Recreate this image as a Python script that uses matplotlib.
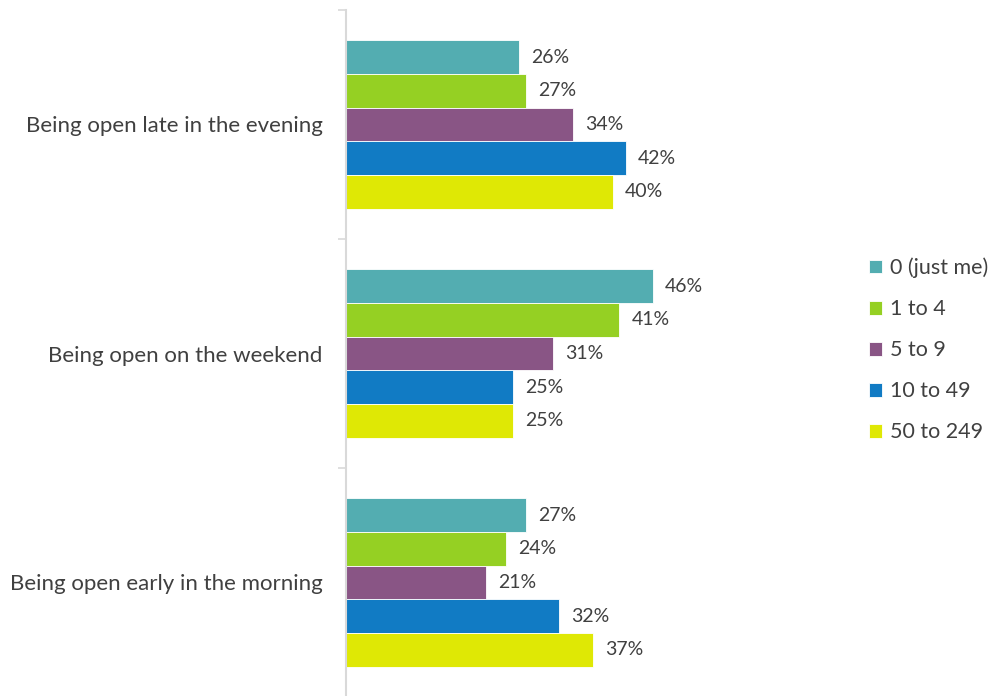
import matplotlib
matplotlib.use("Agg")
import matplotlib.pyplot as plt
from matplotlib.patches import Patch

plt.rcParams['font.family'] = ['Lato', 'DejaVu Sans']

categories = [
    "Being open late in the evening",
    "Being open on the weekend",
    "Being open early in the morning",
]
series_names = ["0 (just me)", "1 to 4", "5 to 9", "10 to 49", "50 to 249"]
values = {
    "0 (just me)": [26, 46, 27],
    "1 to 4": [27, 41, 24],
    "5 to 9": [34, 31, 21],
    "10 to 49": [42, 25, 32],
    "50 to 249": [40, 25, 37],
}
colors = ["#53ADB1", "#95D023", "#895585", "#117BC4", "#DFE805"]

text_color = "#404040"
axis_color = "#D9D9D9"
label_size = 16
legend_size = 15.5
value_size = 14

fig = plt.figure(figsize=(10.03, 6.96), dpi=100)
ax = fig.add_axes([346 / 1003, -1 / 696, 500 / 1003, 687 / 696])

n = len(series_names)
group_frac = 0.735
bar_h = group_frac / n

for j, name in enumerate(series_names):
    ys = [i + (j - (n - 1) / 2) * bar_h for i in range(len(categories))]
    ax.barh(ys, values[name], height=bar_h, color=colors[j],
            edgecolor="white", linewidth=0.6, label=name)
    for y, v in zip(ys, values[name]):
        ax.annotate(f"{v}%", xy=(v, y), xytext=(12, 0), textcoords="offset pixels",
                    va="center", ha="left", fontsize=value_size, color=text_color)

ax.set_xlim(0, 75)
ax.set_ylim(2.5, -0.5)

ax.set_yticks(range(len(categories)))
ax.set_yticklabels(categories, fontsize=label_size, color=text_color)
ax.tick_params(axis="y", which="major", length=0, pad=17)
ax.set_yticks([-0.5, 0.5, 1.5, 2.5], minor=True)
ax.tick_params(axis="y", which="minor", length=6, width=1.2, color=axis_color)
ax.set_xticks([])

for side in ("top", "right", "bottom"):
    ax.spines[side].set_visible(False)
ax.spines["left"].set_color(axis_color)
ax.spines["left"].set_linewidth(1.5)

handles = [Patch(facecolor=c, edgecolor="white", linewidth=0.6, label=s)
           for c, s in zip(colors, series_names)]
fig.legend(handles=handles, loc="center left", bbox_to_anchor=(869 / 1003, 1 - 350 / 696),
           frameon=False, fontsize=legend_size, labelcolor=text_color,
           handlelength=0.62, handleheight=0.62, handletextpad=0.35,
           labelspacing=0.98, borderaxespad=0, borderpad=0)

fig.savefig("out.png", dpi=100, facecolor="white")
